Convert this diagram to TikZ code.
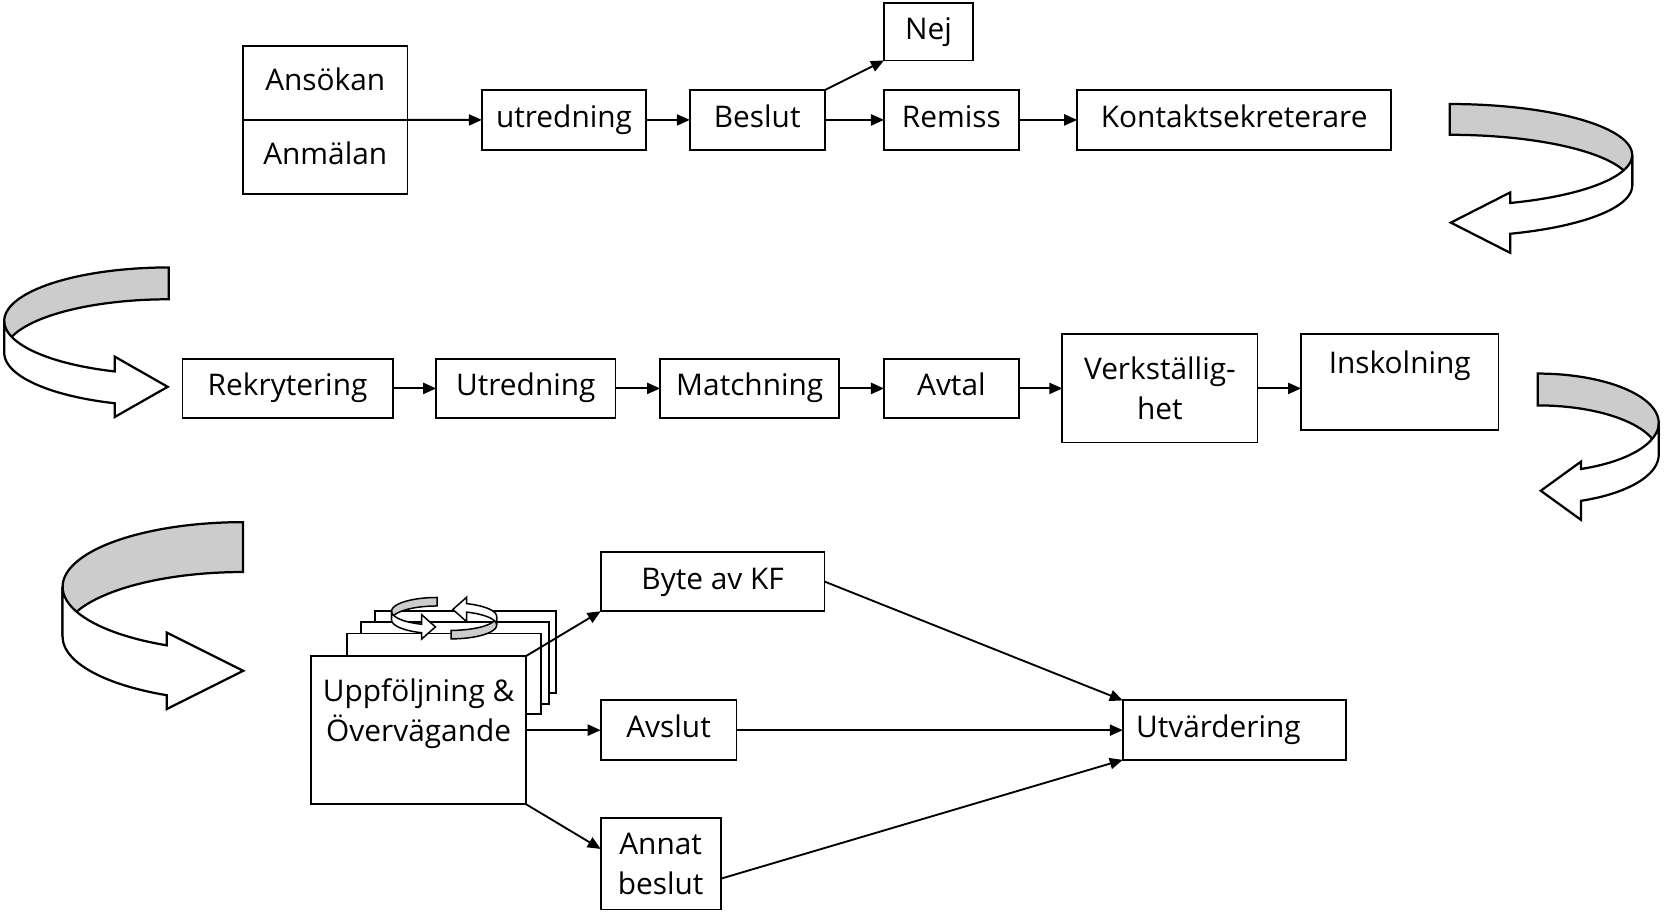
\documentclass[tikz,border=0pt]{standalone}
\usepackage{fontspec}
\setmainfont{Open Sans}
\usetikzlibrary{arrows.meta,calc}
\tikzset{
  box/.style={draw, line width=1pt, fill=white, inner sep=2pt, outer sep=0pt, align=center},
  one/.style={text height=12pt, text depth=4pt},
  arr/.style={line width=1pt, -{Triangle[length=7pt,width=6pt]}},
  ribbonback/.style={fill=gray!40, draw=black, line width=1.2pt, line join=miter},
  ribbonfront/.style={fill=white, draw=black, line width=1.2pt, line join=miter},
  pagebox/.style={draw, line width=1pt, fill=white}
}
% cx cy a b h t2 L e1 e2
\newcommand\ribbon[9]{%
  \pgfmathsetmacro\rbx{#1+(#3)*cos(#6)}%
  \pgfmathsetmacro\rbtop{#2-(#4)*sin(#6)-(#5)}%
  \pgfmathsetmacro\rbbot{#2-(#4)*sin(#6)}%
  \pgfmathsetmacro\rbbt{\rbtop-(#8)}%
  \pgfmathsetmacro\rbbb{\rbbot+(#9)}%
  \pgfmathsetmacro\rbtipx{\rbx+(#7)}%
  \pgfmathsetmacro\rbtipy{(\rbbt+\rbbb)/2}%
  \path[ribbonback] plot[domain=90:0,samples=40] ({#1+(#3)*cos(\x)},{#2-(#4)*sin(\x)-(#5)})
     -- plot[domain=0:90,samples=40] ({#1+(#3)*cos(\x)},{#2-(#4)*sin(\x)}) -- cycle;
  \path[ribbonfront] plot[domain=0:#6,samples=40] ({#1+(#3)*cos(\x)},{#2-(#4)*sin(\x)-(#5)})
     -- (\rbx,\rbbt) -- (\rbtipx,\rbtipy) -- (\rbx,\rbbb)
     -- plot[domain=#6:0,samples=40] ({#1+(#3)*cos(\x)},{#2-(#4)*sin(\x)}) -- cycle;
}
\begin{document}
\begin{tikzpicture}[x=0.02cm,y=-0.02cm,font=\fontsize{16pt}{21.5pt}\selectfont]
\path[fill=white] (0,0) rectangle (1568,860);
\useasboundingbox (0,0) rectangle (1568,860);

% Row 1
\node[box, one, minimum width=3.1cm, minimum height=1.4cm] (ans) at (306.5,78) {Ansökan};
\node[box, one, minimum width=3.1cm, minimum height=1.4cm] (anm) at (306.5,148) {Anmälan};
\node[box, one, minimum width=3.1cm, minimum height=1.12cm] (utr1) at (531.5,113) {utredning};
\node[box, one, minimum width=2.54cm, minimum height=1.12cm] (beslut) at (713.5,113) {Beslut};
\node[box, one, minimum width=1.68cm, minimum height=1.08cm] (nej) at (875,30) {Nej};
\node[box, one, minimum width=2.54cm, minimum height=1.12cm] (remiss) at (896.5,113) {Remiss};
\node[box, one, minimum width=5.92cm, minimum height=1.12cm] (kontakt) at (1163,113) {Kontaktsekreterare};

\draw[arr] (ans.south east) -- (utr1.west);
\draw[arr] (utr1) -- (beslut);
\draw[arr] (beslut) -- (remiss);
\draw[arr] (remiss) -- (kontakt);
\draw[arr] (beslut.north east) -- (nej.south west);

% Row 2
\node[box, one, minimum width=3.96cm, minimum height=1.12cm] (rek) at (271,366) {Rekrytering};
\node[box, one, minimum width=3.38cm, minimum height=1.12cm] (utr2) at (495.5,366) {Utredning};
\node[box, one, minimum width=3.38cm, minimum height=1.12cm] (match) at (706.5,366) {Matchning};
\node[box, one, minimum width=2.54cm, minimum height=1.12cm] (avtal) at (896.5,366) {Avtal};
\node[box, minimum width=3.68cm, minimum height=2.04cm] (verk) at (1093,366) {Verkställig-\\het};
\node[box, minimum width=3.72cm, minimum height=1.8cm] (insk) at (1319,360) {Inskolning\\ \mbox{}};

\draw[arr] (rek) -- (utr2);
\draw[arr] (utr2) -- (match);
\draw[arr] (match) -- (avtal);
\draw[arr] (avtal) -- (verk);
\draw[arr] (verk.east) -- (verk.east -| insk.west);

% Row 3 stack
\draw[pagebox] (353,576) rectangle (524,653);
\draw[pagebox] (340,586) rectangle (517,663);
\draw[pagebox] (327,597) rectangle (510,673);
\node[box, minimum width=4.06cm, minimum height=2.8cm] (main) at (394.5,688) {Uppföljning \&\\Övervägande\\ \mbox{}};

\node[box, one, minimum width=4.22cm, minimum height=1.12cm] (byte) at (671.5,548) {Byte av KF};
\node[box, one, minimum width=2.56cm, minimum height=1.12cm] (avslut) at (630,688) {Avslut};
\node[box, minimum width=2.26cm, minimum height=1.72cm] (annat) at (622.5,814) {Annat\\beslut};
\node[box, one, minimum width=4.2cm, minimum height=1.12cm, text width=3.7cm, align=left] (utv) at (1163,688) {Utvärdering};

\draw[arr] (main.north east) -- (byte.south west);
\draw[arr] (main.east) -- (avslut.west);
\draw[arr] (main.south east) -- ([yshift=8pt]annat.west);
\draw[arr] (byte.east) -- (utv.north west);
\draw[arr] (avslut.east) -- (utv.west);
\draw[arr] ([yshift=-8pt]annat.east) -- (utv.south west);

% small cycle icon
\begin{scope}[ribbonback/.append style={line width=0.8pt}, ribbonfront/.append style={line width=0.8pt}]
\ribbon{412}{584}{-43}{13}{8}{-70}{13}{9}{6}
\begin{scope}[rotate around={180:(418.5,582.5)}]
\ribbon{412}{584}{-43}{13}{8}{-70}{13}{9}{6}
\end{scope}
\end{scope}

% big ribbon arrows
\ribbon{1366}{175}{172}{48}{29}{-70.6}{-56}{10}{18}
\ribbon{1449}{428.5}{114}{46.5}{30}{-69}{-38}{7}{18}
\ribbon{159}{332.4}{-155}{50.4}{30}{-70.8}{50}{14}{13}
\ribbon{229}{599.9}{-170}{60.9}{47}{-65}{72}{12}{13}
\end{tikzpicture}
\end{document}
